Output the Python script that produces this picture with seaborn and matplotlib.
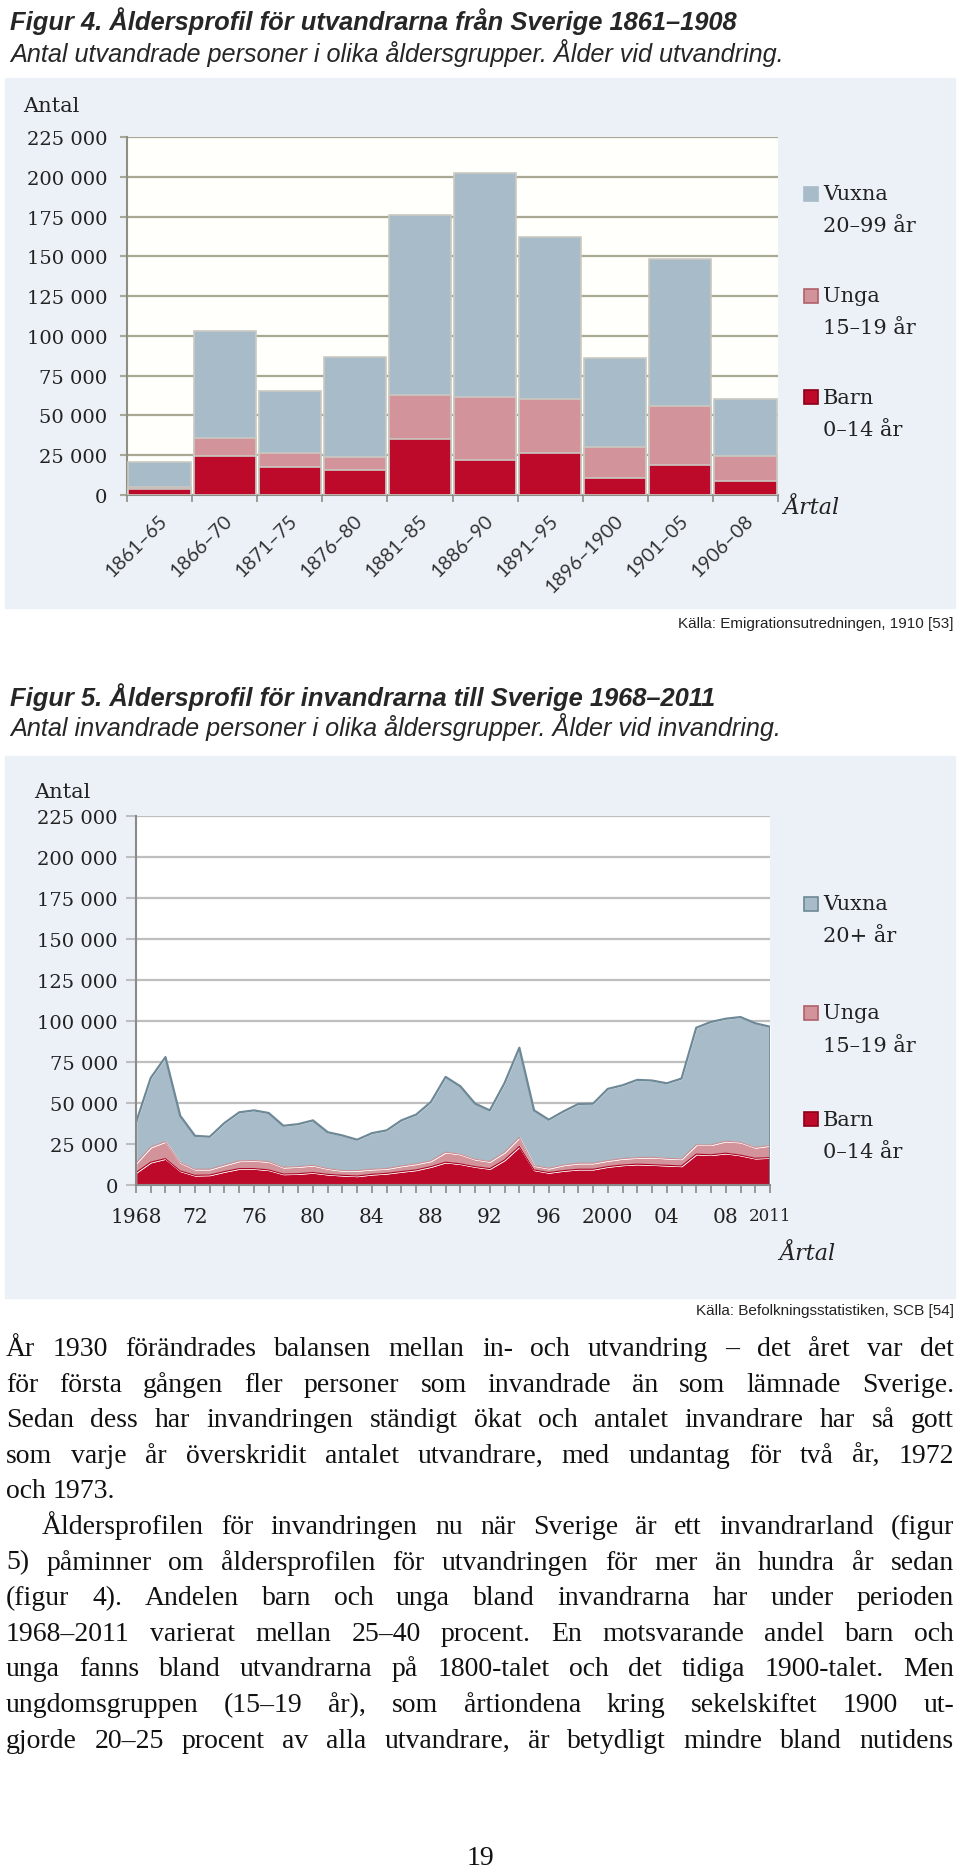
import numpy as np
import pandas as pd
import matplotlib
matplotlib.use('Agg')
import matplotlib.pyplot as plt
import matplotlib.transforms as mtrans
from matplotlib.patches import Rectangle
from matplotlib.ticker import FuncFormatter, MultipleLocator
import seaborn as sns

# Figur 4 data (utvandrare per period)
perioder = ['1861–65', '1866–70', '1871–75', '1876–80', '1881–85',
            '1886–90', '1891–95', '1896–1900', '1901–05', '1906–08']
barn_4 = [3500, 24400, 17900, 15400, 35300, 21900, 26100, 10400, 18600, 8700]
unga_4 = [1500, 11600, 8200, 8200, 27300, 40000, 34500, 19900, 37300, 15700]
vuxna_4 = [15600, 67100, 39000, 62900, 113100, 140400, 101400, 55900, 92200, 36200]

# Figur 5 data (invandrare per år)
ar_5 = list(range(1968, 2012))
barn_5 = [7600, 13900, 16100, 8600, 5900, 6100, 8200, 10000, 10000, 9200,
          6700, 6900, 7600, 6500, 5900, 5500, 6500, 7100, 8200, 9200,
          11200, 13900, 12900, 11200, 10000, 15300, 23500, 9200, 7600, 8800,
          9600, 9600, 11200, 12200, 12700, 12400, 12000, 11600, 18800, 18400,
          19400, 18200, 16300, 16700]
unga_5 = [5700, 9200, 10400, 5100, 3700, 3500, 4000, 4700, 4900, 5100,
          4100, 4300, 4400, 3500, 2900, 3300, 3100, 2900, 3400, 3700,
          3500, 6100, 5900, 4500, 4300, 4700, 5500, 2600, 2600, 3400,
          3700, 3700, 3700, 3900, 4000, 4500, 4300, 4300, 5700, 6100,
          7300, 7900, 6600, 7400]
vuxna_5 = [24700, 42200, 51500, 28500, 20400, 19800, 25600, 29600, 30600, 29600,
           25300, 25900, 27400, 22200, 21400, 18800, 22000, 23300, 27800, 30000,
           35900, 45900, 41400, 33900, 31200, 42200, 54700, 33700, 29600, 32700,
           36100, 36300, 43700, 44700, 47400, 46800, 45700, 49000, 71400, 74900,
           74700, 76300, 75700, 72400]

ytick_vals = list(range(0, 225001, 25000))
xtick_ar = [1968, 1972, 1976, 1980, 1984, 1988, 1992, 1996, 2000, 2004, 2008, 2011]
xtick_txt = ['1968', '72', '76', '80', '84', '88', '92', '96', '2000', '04', '08', '2011']

legend_4 = [('Vuxna', '20–99 år'), ('Unga', '15–19 år'), ('Barn', '0–14 år')]
legend_5 = [('Vuxna', '20+ år'), ('Unga', '15–19 år'), ('Barn', '0–14 år')]

body_lines = [
    'År 1930 förändrades balansen mellan in- och utvandring – det året var det',
    'för första gången fler personer som invandrade än som lämnade Sverige.',
    'Sedan dess har invandringen ständigt ökat och antalet invandrare har så gott',
    'som varje år överskridit antalet utvandrare, med undantag för två år, 1972',
    'och 1973.',
    'Åldersprofilen för invandringen nu när Sverige är ett invandrarland (figur',
    '5) påminner om åldersprofilen för utvandringen för mer än hundra år sedan',
    '(figur 4). Andelen barn och unga bland invandrarna har under perioden',
    '1968–2011 varierat mellan 25–40 procent. En motsvarande andel barn och',
    'unga fanns bland utvandrarna på 1800-talet och det tidiga 1900-talet. Men',
    'ungdomsgruppen (15–19 år), som årtiondena kring sekelskiftet 1900 ut-',
    'gjorde 20–25 procent av alla utvandrare, är betydligt mindre bland nutidens',
]

# colours
c_vux = '#A7BCC8'
c_ung = '#D2939A'
c_bar = '#BD0A2B'
panel = '#ECF1F8'

sns.set_style('white')
plt.rcParams['font.family'] = ['DejaVu Serif']

W, H = 960, 1874
fig = plt.figure(figsize=(9.6, 18.74), dpi=100)
fig.patch.set_facecolor('white')


def fx(px):
    return px / W


def fy(py):
    return 1 - py / H


def fmt(v, pos):
    return '{:,}'.format(int(v)).replace(',', ' ')


sans = ['Liberation Sans', 'DejaVu Sans']

# titles
fig.text(fx(10), fy(21), 'Figur 4. Åldersprofil för utvandrarna från Sverige 1861–1908',
         family=sans, weight='bold', style='italic', fontsize=18.4, va='center')
fig.text(fx(10), fy(53), 'Antal utvandrade personer i olika åldersgrupper. Ålder vid utvandring.',
         family=sans, style='italic', fontsize=18.2, va='center')
fig.text(fx(10), fy(697), 'Figur 5. Åldersprofil för invandrarna till Sverige 1968–2011',
         family=sans, weight='bold', style='italic', fontsize=18.4, va='center')
fig.text(fx(10), fy(727), 'Antal invandrade personer i olika åldersgrupper. Ålder vid invandring.',
         family=sans, style='italic', fontsize=18.2, va='center')

# panels
fig.add_artist(Rectangle((fx(5), fy(609)), fx(950), (609 - 79) / H,
                         transform=fig.transFigure, color=panel, zorder=-5))
fig.add_artist(Rectangle((fx(5), fy(1299)), fx(950), (1299 - 757) / H,
                         transform=fig.transFigure, color=panel, zorder=-5))

# ---- Figur 4: stapeldiagram ----
ax1 = fig.add_axes([fx(127), fy(496), fx(778 - 127), (496 - 138) / H])
ax1.set_facecolor('#FFFFFB')
tot = np.array(barn_4) + np.array(unga_4) + np.array(vuxna_4)
mid = np.array(barn_4) + np.array(unga_4)
for vals, col in [(tot, c_vux), (mid, c_ung), (np.array(barn_4), c_bar)]:
    sns.barplot(x=perioder, y=vals, order=perioder, color=col, saturation=1,
                width=0.955, edgecolor='#C9C9C2', linewidth=1.2, ax=ax1, zorder=3)
ax1.set_xlim(-0.5, 9.5)
ax1.set_ylim(0, 225000)
ax1.set_yticks(ytick_vals)
ax1.yaxis.set_major_formatter(FuncFormatter(fmt))
ax1.grid(axis='y', color='#A9A892', lw=1.6, zorder=0)
ax1.set_axisbelow(True)
for s in ['top', 'right']:
    ax1.spines[s].set_visible(False)
for s in ['left', 'bottom']:
    ax1.spines[s].set_color('#8E8E86')
    ax1.spines[s].set_linewidth(1.5)
ax1.tick_params(axis='y', left=True, length=5, color='#A9A892', width=1.5,
                pad=9, labelsize=14, labelcolor='#222222')
ax1.set_xticks(range(len(perioder)))
ax1.set_xticklabels(perioder)
ax1.xaxis.set_minor_locator(MultipleLocator(1, offset=0.5))
ax1.tick_params(axis='x', which='minor', bottom=True, length=5, color='#8E8E86', width=1.2)
ax1.tick_params(axis='x', which='major', bottom=False, length=0, pad=16,
                labelsize=14, labelcolor='#333333')
shift = mtrans.ScaledTranslation(5 / 100, 0, fig.dpi_scale_trans)
for t in ax1.get_xticklabels():
    t.set_family(['Lato', 'DejaVu Sans'])
    t.set_rotation(45)
    t.set_ha('right')
    t.set_va('center')
    t.set_rotation_mode('anchor')
    t.set_transform(t.get_transform() + shift)
ax1.set_xlabel('')
ax1.set_ylabel('')
fig.text(fx(23), fy(106), 'Antal', fontsize=15, va='center', color='#222222')
fig.text(fx(783), fy(508), 'Årtal', fontsize=16, style='italic', va='center', color='#222222')

# ---- Figur 5: ytdiagram ----
ax2 = fig.add_axes([fx(136), fy(1186), fx(770 - 136), (1186 - 817) / H])
ax2.set_facecolor('white')
ax2.stackplot(ar_5, barn_5, unga_5, vuxna_5, colors=[c_bar, c_ung, c_vux], zorder=3)
top5 = np.array(barn_5) + np.array(unga_5) + np.array(vuxna_5)
mid5 = np.array(barn_5) + np.array(unga_5)
sns.lineplot(x=ar_5, y=top5, color='#6D8896', lw=1.6, ax=ax2, zorder=4)
sns.lineplot(x=ar_5, y=mid5, color='#C98A90', lw=0.8, ax=ax2, zorder=4)
sns.lineplot(x=ar_5, y=barn_5, color='#A9001F', lw=0.8, ax=ax2, zorder=4)
ax2.vlines(2011, 0, top5[-1], color='#6D8896', lw=1.2, zorder=4)
ax2.set_xlim(1968, 2011)
ax2.set_ylim(0, 225000)
ax2.set_yticks(ytick_vals)
ax2.yaxis.set_major_formatter(FuncFormatter(fmt))
ax2.grid(axis='y', color='#BEBEBE', lw=1.6, zorder=0)
ax2.set_axisbelow(True)
for s in ['top', 'right']:
    ax2.spines[s].set_visible(False)
for s in ['left', 'bottom']:
    ax2.spines[s].set_color('#8A8A8A')
    ax2.spines[s].set_linewidth(1.5)
    ax2.spines[s].set_zorder(5)
ax2.tick_params(axis='y', left=True, length=7, color='#BEBEBE', width=1.5,
                pad=6, labelsize=14, labelcolor='#222222')
ax2.set_xticks(xtick_ar)
ax2.set_xticklabels(xtick_txt)
ax2.xaxis.set_minor_locator(MultipleLocator(1))
ax2.tick_params(axis='x', which='both', bottom=True, length=6, color='#8A8A8A',
                width=1.2, pad=10, labelsize=14.5, labelcolor='#222222')
ax2.get_xticklabels()[-1].set_fontsize(12)
fig.text(fx(34), fy(793), 'Antal', fontsize=15, va='center', color='#222222')
fig.text(fx(779), fy(1254), 'Årtal', fontsize=16, style='italic', va='center', color='#222222')


def legend(items, ys, edges):
    cols = [c_vux, c_ung, c_bar]
    for (a, b), y, col, ec in zip(items, ys, cols, edges):
        fig.add_artist(Rectangle((fx(804), fy(y + 7)), fx(14), 14 / H,
                                 transform=fig.transFigure, facecolor=col,
                                 edgecolor=ec, lw=1.2))
        fig.text(fx(823), fy(y), a, fontsize=15, va='center', color='#222222')
        fig.text(fx(823), fy(y + 32), b, fontsize=15, va='center', color='#222222')


legend(legend_4, [195, 297, 398], [c_vux, '#B06068', '#8E0018'])
legend(legend_5, [905, 1014, 1120], ['#6D8896', '#B06068', '#8E0018'])

fig.text(fx(954), fy(624), 'Källa: Emigrationsutredningen, 1910 [53]',
         family=sans, fontsize=11, ha='right', va='center', color='#222222')
fig.text(fx(954), fy(1311), 'Källa: Befolkningsstatistiken, SCB [54]',
         family=sans, fontsize=11, ha='right', va='center', color='#222222')

# ---- brödtext, marginaljusterad ----
serif = ['Liberation Serif', 'DejaVu Serif']
fs = 20
renderer = fig.canvas.get_renderer()
space = 0.25 * fs * fig.dpi / 72
para_end = {4}
indent = {5}
for i, line in enumerate(body_lines):
    yb = 1348 + i * 35.6 + 8
    x0 = 42 if i in indent else 6
    words = line.split(' ')
    texts = [fig.text(0, fy(yb), w, family=serif, fontsize=fs, va='baseline', color='#111111')
             for w in words]
    widths = [t.get_window_extent(renderer=renderer).width for t in texts]
    if i in para_end or len(words) == 1:
        gap = space
    else:
        gap = (954 - x0 - sum(widths)) / (len(words) - 1)
    x = x0
    for t, w in zip(texts, widths):
        t.set_x(fx(x))
        x += w + gap

fig.text(0.5, fy(1859), '19', family=serif, fontsize=20, ha='center', va='center', color='#111111')

fig.savefig('out.png', dpi=100)
